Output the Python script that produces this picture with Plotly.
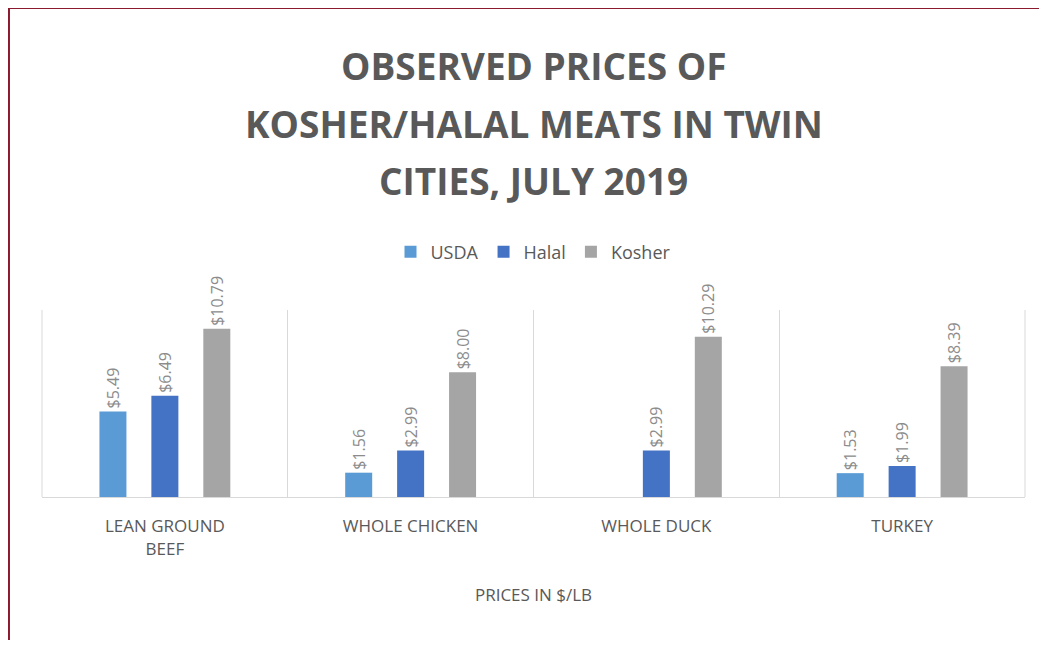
"""Observed prices of kosher/halal meats, Twin Cities, July 2019 (Plotly)."""

import plotly.graph_objects as go

categories = ["LEAN GROUND<br>BEEF", "WHOLE CHICKEN", "WHOLE DUCK", "TURKEY"]
usda = [5.49, 1.56, None, 1.53]
halal = [6.49, 2.99, 2.99, 1.99]
kosher = [10.79, 8.00, 10.29, 8.39]

title_lines = ["OBSERVED PRICES OF", "KOSHER/HALAL MEATS IN TWIN", "CITIES, JULY 2019"]

TEXT_GREY = "#595959"
LABEL_GREY = "#8c8c8c"
GRID = "#d9d9d9"
FONT = "Open Sans"

fig = go.Figure()

for name, vals, color in [
    ("USDA", usda, "#5B9BD5"),
    ("Halal", halal, "#4472C4"),
    ("Kosher", kosher, "#A5A5A5"),
]:
    fig.add_trace(go.Bar(
        x=categories, y=vals, name=name,
        marker=dict(color=color, line=dict(width=0)),
        texttemplate="$%{y:.2f}",
        textposition="outside",
        textangle=-90,
        constraintext="none",
        textfont=dict(family=FONT, size=16, color=LABEL_GREY),
        cliponaxis=False,
    ))

# titre sur trois lignes (interligne plus large que celui de plotly)
for i, line in enumerate(title_lines):
    fig.add_annotation(
        text=f"<b>{line}</b>", xref="paper", yref="paper",
        x=0.5, y=2.305 - i * 0.305, xanchor="center", yanchor="middle",
        showarrow=False, font=dict(family=FONT, size=37, color=TEXT_GREY),
    )

# séparateurs verticaux aux bords de la zone de tracé
for xp in (0, 1):
    fig.add_shape(
        type="line", xref="paper", yref="paper",
        x0=xp, x1=xp, y0=0, y1=1, line=dict(color=GRID, width=1), layer="below",
    )

# cadre rouge (haut + gauche seulement visibles)
fig.add_shape(
    type="rect", xref="paper", yref="paper",
    x0=-0.0336, x1=1.2, y0=-1.2, y1=2.615,
    line=dict(color="#8B1A2E", width=2), layer="above",
)

fig.update_layout(
    width=1039, height=632,
    paper_bgcolor="white", plot_bgcolor="white",
    margin=dict(l=34, r=22, t=302, b=143),
    barmode="group", bargap=0.366, bargroupgap=0.48,
    font=dict(family=FONT, color=TEXT_GREY),
    legend=dict(
        orientation="h", x=0.5, xanchor="center", y=1.31, yanchor="middle",
        font=dict(family=FONT, size=18, color=TEXT_GREY),
        itemwidth=30,
    ),
    xaxis=dict(
        tickson="boundaries", showgrid=True, gridcolor=GRID, gridwidth=1,
        showline=True, linecolor=GRID, linewidth=1,
        ticks="", ticklabelstandoff=14,
        tickfont=dict(family=FONT, size=17, color=TEXT_GREY),
        title=dict(text="PRICES IN $/LB", font=dict(family=FONT, size=17, color=TEXT_GREY),
                   standoff=30),
    ),
    yaxis=dict(range=[0, 12], visible=False, showgrid=False, zeroline=False),
)

fig.write_html("out.html")
